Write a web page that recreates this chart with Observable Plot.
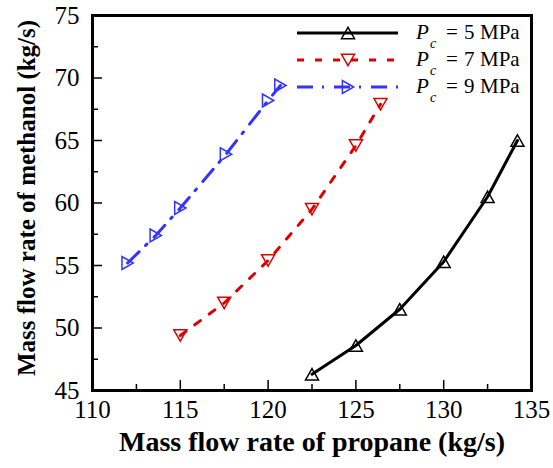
<!DOCTYPE html>
<html><head><meta charset="utf-8">
<script src="https://cdn.jsdelivr.net/npm/d3@7"></script>
<script src="https://cdn.jsdelivr.net/npm/@observablehq/plot@0.6"></script>
<style>body{margin:0;background:#fff}</style>
</head><body><div id="chart"></div>
<script>
// ---- data ----
const seriesLabels = ["5", "7", "9"];
const propane5 = [122.5, 125.0, 127.5, 130.0, 132.5, 134.2];
const methanol5 = [46.3, 48.6, 51.5, 55.3, 60.5, 65.0];
const propane7 = [115.0, 117.5, 120.0, 122.5, 125.0, 126.4];
const methanol7 = [49.4, 52.0, 55.4, 59.5, 64.6, 67.9];
const propane9 = [112.0, 113.6, 115.0, 117.6, 120.0, 120.7];
const methanol9 = [55.2, 57.4, 59.6, 63.9, 68.2, 69.4];
const xTicks = [110, 115, 120, 125, 130, 135];
const xMinor = [112.5, 117.5, 122.5, 127.5, 132.5];
const yTicks = [45, 50, 55, 60, 65, 70, 75];
const yMinor = [47.5, 52.5, 57.5, 62.5, 67.5, 72.5];

// ---- symbols ----
function tri(dir) {
  return {draw(ctx, size) {
    const r = Math.sqrt(size / Math.PI), h = r * Math.sqrt(3) / 2;
    if (dir === "up") { ctx.moveTo(0, -h); ctx.lineTo(r, h); ctx.lineTo(-r, h); }
    else if (dir === "down") { ctx.moveTo(0, h); ctx.lineTo(r, -h); ctx.lineTo(-r, -h); }
    else { ctx.moveTo(h, 0); ctx.lineTo(-h, -r); ctx.lineTo(-h, r); }
    ctx.closePath();
  }};
}
const styles = [
  {color: "#000000", dash: null, sym: tri("up")},
  {color: "#dd0000", dash: "7,11", sym: tri("down")},
  {color: "#3333ff", dash: "16,9,2,10", sym: tri("right")}
];
const xs = [propane5, propane7, propane9];
const ys = [methanol5, methanol7, methanol9];
const tables = seriesLabels.map((s, i) => xs[i].map((x, j) => ({x, y: ys[i][j], s})));

const W = 553, H = 468, mL = 92, mR = 22, mT = 15, mB = 78;
const pW = W - mL - mR, pH = H - mT - mB;
const font = "Liberation Serif, Times New Roman, serif";

const marks = [];
tables.forEach((t, i) => {
  marks.push(Plot.line(t, {x: "x", y: "y", stroke: styles[i].color, strokeWidth: 3,
    strokeDasharray: styles[i].dash}));
  marks.push(Plot.dot(t, {x: "x", y: "y", symbol: styles[i].sym, r: 6.5, stroke: styles[i].color,
    strokeWidth: 1.5, fill: "none"}));
});

const plot = Plot.plot({
  width: W, height: H,
  marginLeft: mL, marginRight: mR, marginTop: mT, marginBottom: mB,
  x: {domain: [110, 135], axis: null},
  y: {domain: [45, 75], axis: null},
  style: {fontFamily: font, background: "#fff", color: "#000"},
  marks: [
    Plot.tickX(xTicks, {x: d => d, insetTop: pH - 10, stroke: "#000", strokeWidth: 1.5}),
    Plot.tickX(xMinor, {x: d => d, insetTop: pH - 6, stroke: "#000", strokeWidth: 1.5}),
    Plot.tickY(yTicks, {y: d => d, insetRight: pW - 10, stroke: "#000", strokeWidth: 1.5}),
    Plot.tickY(yMinor, {y: d => d, insetRight: pW - 6, stroke: "#000", strokeWidth: 1.5}),
    Plot.text(xTicks, {x: d => d, text: d => String(d), frameAnchor: "bottom", lineAnchor: "top",
      dy: 10, fontSize: 25, fontFamily: font, fill: "#000"}),
    Plot.text(yTicks, {y: d => d, text: d => String(d), frameAnchor: "left", textAnchor: "end",
      lineAnchor: "middle", dx: -13, fontSize: 25, fontFamily: font, fill: "#000"}),
    Plot.text(["Mass flow rate of propane (kg/s)"], {frameAnchor: "bottom", lineAnchor: "middle",
      textAnchor: "middle", dy: 52, fontSize: 28, fontFamily: font, fontWeight: "bold", fill: "#000"}),
    Plot.text(["Mass flow rate of methanol (kg/s)"], {frameAnchor: "left", textAnchor: "middle",
      lineAnchor: "middle", rotate: -90, dx: -66, dy: -5, fontSize: 25, fontFamily: font,
      fontWeight: "bold", fill: "#000"}),
    ...marks,
    Plot.frame({stroke: "#000", strokeWidth: 3})
  ]
});

// ---- legend ----
const svg = d3.select(plot);
const lg = svg.append("g").attr("font-family", font).attr("text-anchor", "start");
seriesLabels.forEach((s, i) => {
  const yy = 33 + i * 27;
  lg.append("line").attr("x1", 297).attr("x2", 398).attr("y1", yy).attr("y2", yy)
    .attr("stroke", styles[i].color).attr("stroke-width", 3)
    .attr("stroke-dasharray", styles[i].dash);
  lg.append("path").attr("transform", `translate(348,${yy})`)
    .attr("d", d3.symbol(styles[i].sym, 6.5 * 6.5 * Math.PI)())
    .attr("fill", "none").attr("stroke", styles[i].color).attr("stroke-width", 1.5);
  const t = lg.append("text").attr("y", yy + 6).attr("font-size", 21)
    .attr("fill", "#000").attr("text-anchor", "start");
  t.append("tspan").attr("x", 416).attr("font-style", "italic").text("P");
  t.append("tspan").attr("x", 430).attr("font-style", "italic").attr("font-size", 14).attr("dy", 9).text("c");
  t.append("tspan").attr("x", 446).attr("dy", -9).text("=");
  t.append("tspan").attr("x", 464).text(s);
  t.append("tspan").attr("x", 480).text("MPa");
});

document.getElementById("chart").appendChild(plot);
</script>
</body></html>
